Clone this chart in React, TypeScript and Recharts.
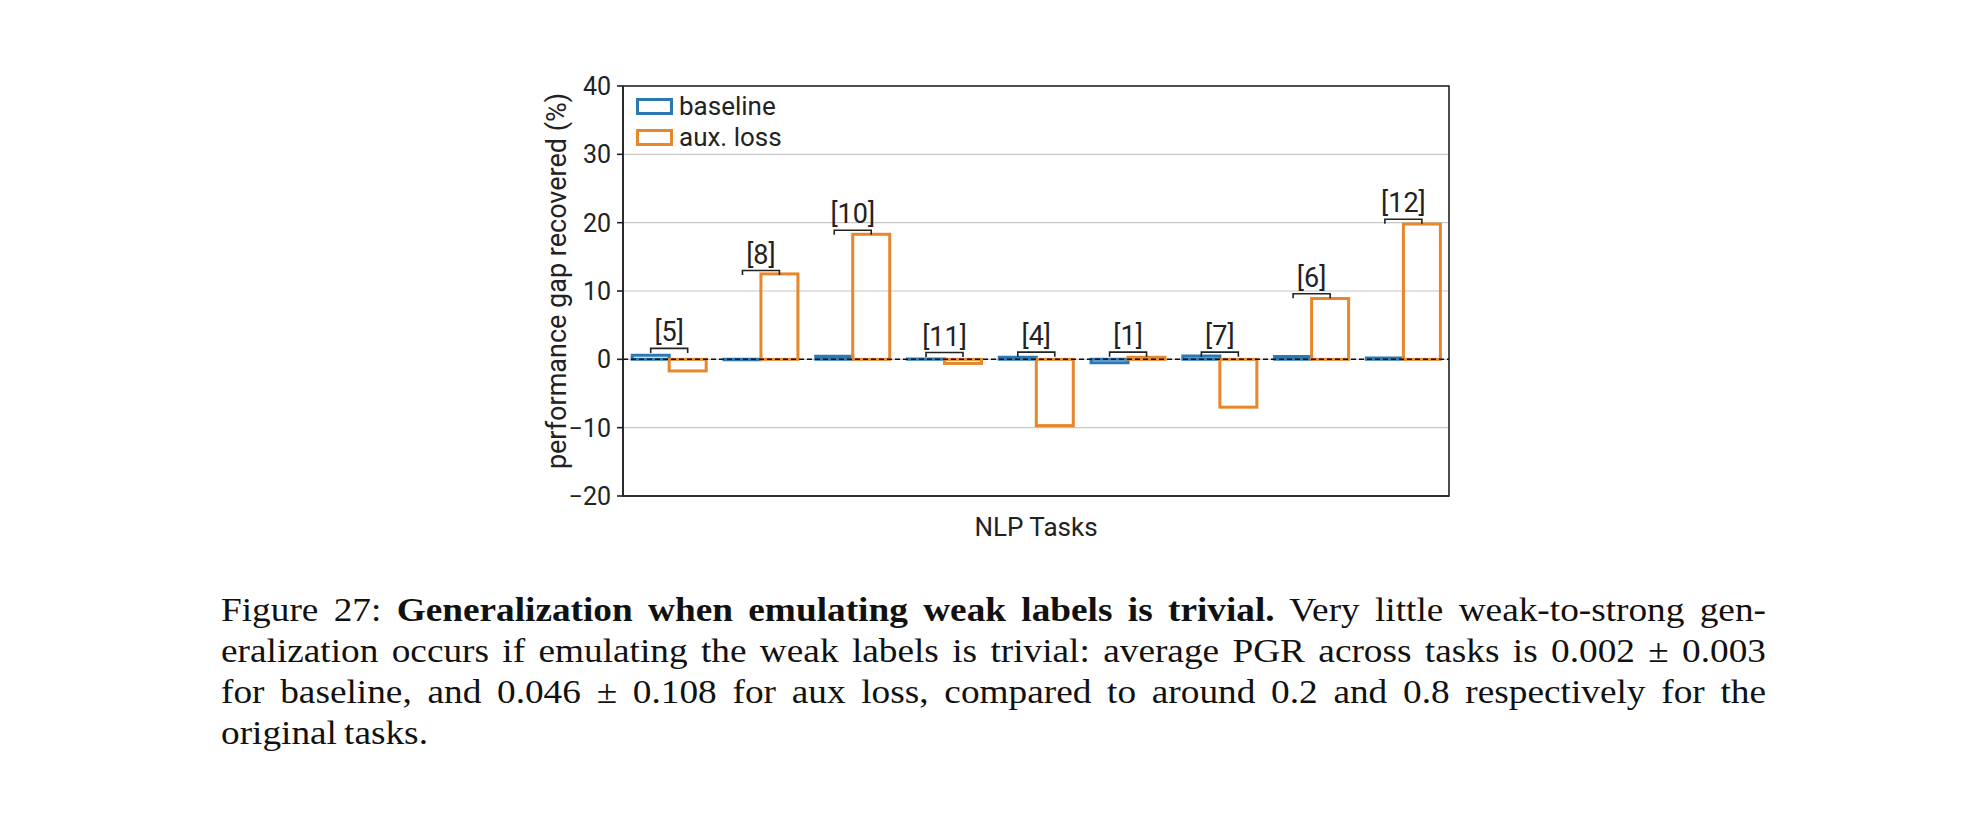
import React from 'react';
import {
  BarChart,
  Bar,
  XAxis,
  YAxis,
  CartesianGrid,
  ReferenceLine,
  ReferenceArea,
  Legend,
  Label,
} from 'recharts';

// values in percent
const tasks = ['[5]', '[8]', '[10]', '[11]', '[4]', '[1]', '[7]', '[6]', '[12]'];
const baseline = [0.6, -0.05, 0.45, 0.05, 0.3, -0.5, 0.5, 0.4, 0.2];
const auxLoss = [-1.7, 12.5, 18.3, -0.6, -9.7, 0.3, -7.0, 8.9, 19.8];
const bracketLevel = [1.6, 13.0, 18.9, 1.0, 1.05, 1.05, 1.05, 9.6, 20.5];
const yTicks = [-20, -10, 0, 10, 20, 30, 40];

const data = tasks.map((task, i) => ({
  task,
  baseline: baseline[i],
  aux: auxLoss[i],
  bracket: bracketLevel[i],
}));

const BLUE = '#2b78b3';
const ORANGE = '#e8862b';
const INK = '#222';
const FONT = 'Roboto, "DejaVu Sans", sans-serif';

// aux bar outline, plus the bracket joining the pair and its task label
function AuxBar(props: any) {
  const { x, y, width, height, payload } = props;
  const top = Math.min(y, y + height);
  const bottom = Math.max(y, y + height);
  const v = payload.aux;
  const zero = v >= 0 ? bottom : top;
  const perUnit = (bottom - top) / Math.abs(v);
  const by = zero - payload.bracket * perUnit;
  const x1 = x - width / 2;
  const x2 = x + width / 2;
  return (
    <g>
      <rect
        x={x}
        y={top}
        width={width}
        height={bottom - top}
        fill="none"
        stroke={ORANGE}
        strokeWidth={3}
      />
      <path
        d={`M${x1},${by + 4.5}V${by}H${x2}V${by + 4.5}`}
        fill="none"
        stroke={INK}
        strokeWidth={1.6}
      />
      <text
        x={x}
        y={by - 7}
        textAnchor="middle"
        fontSize={27}
        fontFamily={FONT}
        fill={INK}
      >
        {payload.task}
      </text>
    </g>
  );
}

const YLabel = (props: any) => {
  const { viewBox } = props;
  const cx = viewBox.x + 77;
  const cy = viewBox.y + viewBox.height / 2 - 10;
  return (
    <text
      x={cx}
      y={cy}
      transform={`rotate(-90 ${cx} ${cy})`}
      textAnchor="middle"
      dominantBaseline="central"
      fontSize={27}
      fontFamily={FONT}
      fill={INK}
    >
      performance gap recovered (%)
    </text>
  );
};

const legendItems = [
  { name: 'baseline', color: BLUE },
  { name: 'aux. loss', color: ORANGE },
];

const LegendBox = () => (
  <div style={{ fontFamily: FONT, fontSize: 26, color: INK }}>
    {legendItems.map((it) => (
      <div
        key={it.name}
        style={{ display: 'flex', alignItems: 'center', height: 31 }}
      >
        <svg width={37} height={17} style={{ display: 'block' }}>
          <rect
            x={1.5}
            y={1.5}
            width={34}
            height={14}
            fill="none"
            stroke={it.color}
            strokeWidth={3}
          />
        </svg>
        <span style={{ marginLeft: 6, lineHeight: '31px' }}>{it.name}</span>
      </div>
    ))}
  </div>
);

const minus = (v: number) => String(v).replace('-', '\u2212');

const axisStroke = { stroke: INK, strokeWidth: 1.6 };

const STRETCH = 1.13;

const lineStyle: React.CSSProperties = {
  textAlign: 'justify',
  textAlignLast: 'justify',
};

export default function App() {
  return (
    <div
      style={{
        position: 'absolute',
        left: 0,
        top: 0,
        width: 1978,
        height: 816,
        background: '#fff',
        overflow: 'hidden',
      }}
    >
      <div style={{ position: 'absolute', left: 480, top: 40 }}>
        <BarChart
          width={999}
          height={506}
          data={data}
          margin={{ top: 46, right: 30, bottom: 0, left: 0 }}
          barCategoryGap="10%"
          barGap={0}
          style={{ fontFamily: FONT }}
        >
          <CartesianGrid vertical={false} stroke="#c6c6c6" strokeWidth={1.2} />
          <XAxis
            dataKey="task"
            height={50}
            tick={false}
            tickLine={false}
            axisLine={axisStroke}
          >
            <Label
              value="NLP Tasks"
              position="insideBottom"
              offset={10}
              fontSize={26}
              fill={INK}
            />
          </XAxis>
          <YAxis
            type="number"
            domain={[-20, 40]}
            ticks={yTicks}
            interval={0}
            width={143}
            tickSize={6}
            tickMargin={6}
            tick={{ fontSize: 25, fill: INK }}
            tickLine={axisStroke}
            axisLine={axisStroke}
            tickFormatter={minus}
          >
            <Label content={YLabel} />
          </YAxis>
          <Legend
            layout="horizontal"
            verticalAlign="middle"
            align="center"
            wrapperStyle={{ left: 156, top: 51, width: 'auto', height: 'auto' }}
            content={() => <LegendBox />}
          />
          <ReferenceArea
            x1={tasks[0]}
            x2={tasks[tasks.length - 1]}
            y1={-20}
            y2={40}
            fill="none"
            fillOpacity={0}
            stroke={INK}
            strokeWidth={1.6}
            ifOverflow="visible"
          />
          <Bar
            dataKey="baseline"
            name="baseline"
            fill="none"
            stroke={BLUE}
            strokeWidth={3}
            isAnimationActive={false}
          />
          <Bar
            dataKey="aux"
            name="aux. loss"
            fill="none"
            stroke={ORANGE}
            strokeWidth={3}
            shape={AuxBar}
            isAnimationActive={false}
          />
          <ReferenceLine
            y={0}
            stroke="#111"
            strokeWidth={1.5}
            strokeDasharray="5 3"
          />
        </BarChart>
      </div>
      <div
        style={{
          position: 'absolute',
          left: 221,
          top: 590,
          width: 1545 / STRETCH,
          transform: `scaleX(${STRETCH})`,
          transformOrigin: '0 0',
          fontFamily: '"Liberation Serif", "Times New Roman", serif',
          fontSize: 33,
          lineHeight: '41px',
          wordSpacing: -2,
          color: '#111',
        }}
      >
        <div style={lineStyle}>
          Figure 27: <b>Generalization when emulating weak labels is trivial.</b>{' '}
          Very little weak-to-strong gen-
        </div>
        <div style={lineStyle}>
          eralization occurs if emulating the weak labels is trivial: average PGR
          across tasks is 0.002 ± 0.003
        </div>
        <div style={lineStyle}>
          for baseline, and 0.046 ± 0.108 for aux loss, compared to around 0.2
          and 0.8 respectively for the
        </div>
        <div>original tasks.</div>
      </div>
    </div>
  );
}
